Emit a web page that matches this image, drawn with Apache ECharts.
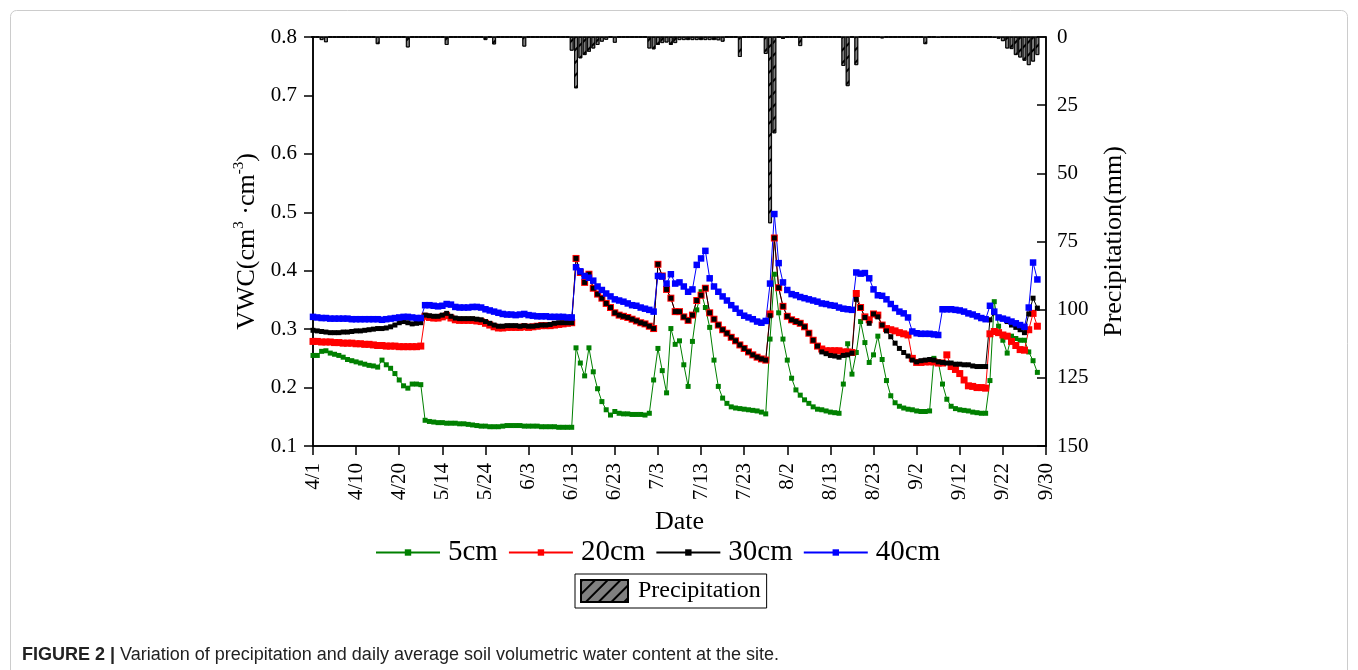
<!DOCTYPE html>
<html>
<head>
<meta charset="utf-8">
<script src="https://cdn.jsdelivr.net/npm/echarts@6/dist/echarts.min.js"></script>
<style>
html,body{margin:0;padding:0;background:#fff;}
#c{width:1358px;height:670px;}
</style>
</head>
<body>
<div id="c"></div>
<script>
// ---- data ----
const tickLabels = ['4/1','4/10','4/20','5/14','5/24','6/3','6/13','6/23','7/3','7/13','7/23','8/2','8/13','8/23','9/2','9/12','9/22','9/30'];
const slotCount = 171; // axis slots (ticks every 10 slots)

const vwc5 = [
  0.255,0.255,0.262,0.263,0.259,0.257,0.255,0.252,0.248,0.246,0.244,0.242,0.240,0.238,0.237,0.235,0.247,0.239,0.233,0.224,0.213,0.203,0.199,0.206,0.206,0.205,
  0.144,0.142,0.141,0.140,0.140,0.139,0.139,0.139,0.138,0.138,0.137,0.136,0.135,0.134,0.134,0.133,0.133,0.133,0.134,0.135,0.135,0.135,0.135,0.134,0.134,0.134,0.134,0.133,0.133,0.133,0.133,0.132,0.132,0.132,0.132,
  0.268,0.242,0.220,0.268,0.227,0.198,0.176,0.162,0.153,0.159,0.156,0.155,0.155,0.154,0.154,0.154,0.153,0.156,0.213,0.267,0.229,0.191,0.301,0.274,0.280,0.239,0.202,0.279,0.333,0.364,0.337,0.303,0.247,0.202,0.182,
  0.173,0.167,0.165,0.164,0.163,0.162,0.161,0.160,0.158,0.155,0.283,0.394,0.328,0.283,0.247,0.216,0.196,0.187,0.179,0.173,0.167,0.163,0.162,0.160,0.158,0.157,0.156,0.206,0.275,0.223,0.260,0.313,0.277,0.243,0.256,
  0.288,0.248,0.212,0.186,0.174,0.168,0.165,0.163,0.162,0.160,0.159,0.159,0.160,0.250,0.244,0.206,0.180,0.168,0.164,0.162,0.161,0.160,0.158,0.157,0.156,0.156,0.212,0.347,0.305,0.281,0.259,0.288,0.284,0.281,0.281,0.261,0.246,0.226
];
const vwc20 = [
  0.279,0.279,0.278,0.278,0.278,0.277,0.277,0.276,0.276,0.276,0.275,0.275,0.274,0.274,0.273,0.272,0.272,0.271,0.271,0.271,0.270,0.270,0.270,0.270,0.270,0.271,
  0.322,0.320,0.319,0.319,0.321,0.323,0.319,0.316,0.315,0.315,0.315,0.315,0.314,0.313,0.310,0.307,0.304,0.302,0.302,0.303,0.303,0.303,0.303,0.304,0.303,0.304,0.305,0.306,0.306,0.306,0.307,0.308,0.309,0.310,0.311,
  0.421,0.397,0.380,0.394,0.370,0.360,0.353,0.344,0.337,0.328,0.324,0.322,0.320,0.317,0.314,0.311,0.309,0.305,0.301,0.411,0.391,0.368,0.353,0.330,0.330,0.321,0.315,0.324,0.349,0.358,0.370,0.328,0.317,0.307,0.299,
  0.293,0.286,0.280,0.273,0.267,0.261,0.256,0.252,0.249,0.247,0.326,0.456,0.371,0.339,0.322,0.316,0.313,0.310,0.304,0.293,0.281,0.271,0.266,0.263,0.263,0.263,0.263,0.261,0.261,0.260,0.361,0.337,0.321,0.316,0.326,
  0.324,0.307,0.301,0.299,0.297,0.294,0.292,0.290,0.250,0.243,0.243,0.244,0.244,0.244,0.242,0.242,0.256,0.236,0.231,0.224,0.213,0.203,0.202,0.200,0.200,0.199,0.292,0.296,0.294,0.290,0.288,0.279,0.272,0.265,0.264,0.299,0.327,0.305
];
const vwc30 = [
  0.298,0.297,0.296,0.295,0.294,0.294,0.294,0.295,0.295,0.296,0.297,0.297,0.298,0.299,0.300,0.301,0.301,0.302,0.304,0.307,0.311,0.313,0.311,0.309,0.310,0.311,
  0.324,0.323,0.322,0.322,0.324,0.327,0.322,0.319,0.318,0.318,0.318,0.318,0.317,0.316,0.313,0.310,0.307,0.305,0.305,0.306,0.306,0.306,0.305,0.306,0.305,0.305,0.306,0.307,0.307,0.308,0.310,0.311,0.311,0.311,0.311,
  0.421,0.397,0.380,0.394,0.370,0.360,0.353,0.344,0.337,0.328,0.324,0.322,0.320,0.317,0.314,0.311,0.309,0.305,0.301,0.411,0.391,0.368,0.353,0.330,0.330,0.321,0.315,0.324,0.349,0.358,0.370,0.328,0.317,0.307,0.299,
  0.293,0.286,0.280,0.273,0.267,0.261,0.256,0.252,0.249,0.247,0.323,0.456,0.371,0.339,0.322,0.316,0.313,0.310,0.304,0.293,0.281,0.271,0.261,0.258,0.255,0.254,0.252,0.255,0.256,0.259,0.351,0.337,0.320,0.310,0.326,
  0.321,0.307,0.297,0.287,0.276,0.267,0.260,0.254,0.247,0.244,0.246,0.247,0.248,0.247,0.244,0.243,0.242,0.242,0.240,0.240,0.239,0.239,0.237,0.236,0.236,0.236,0.316,0.328,0.320,0.318,0.313,0.307,0.303,0.299,0.294,0.326,0.353,0.336
];
const vwc40 = [
  0.321,0.320,0.319,0.319,0.318,0.318,0.318,0.318,0.318,0.317,0.317,0.317,0.317,0.317,0.317,0.317,0.316,0.317,0.318,0.319,0.320,0.321,0.321,0.320,0.319,0.319,
  0.341,0.341,0.340,0.339,0.340,0.343,0.342,0.338,0.337,0.337,0.337,0.338,0.338,0.337,0.334,0.332,0.330,0.328,0.326,0.325,0.325,0.324,0.325,0.326,0.324,0.323,0.322,0.322,0.322,0.321,0.321,0.321,0.321,0.320,0.320,
  0.406,0.399,0.391,0.388,0.383,0.373,0.367,0.361,0.356,0.351,0.349,0.347,0.344,0.341,0.340,0.337,0.335,0.333,0.330,0.391,0.390,0.378,0.394,0.378,0.380,0.373,0.364,0.368,0.410,0.421,0.434,0.387,0.373,0.364,0.356,
  0.349,0.341,0.335,0.328,0.323,0.320,0.317,0.313,0.311,0.314,0.378,0.497,0.413,0.380,0.367,0.360,0.358,0.355,0.353,0.351,0.349,0.347,0.344,0.343,0.341,0.340,0.337,0.335,0.334,0.333,0.397,0.395,0.396,0.387,0.368,
  0.358,0.357,0.351,0.343,0.336,0.330,0.327,0.320,0.296,0.293,0.292,0.292,0.292,0.291,0.290,0.334,0.334,0.334,0.333,0.332,0.330,0.327,0.325,0.322,0.319,0.317,0.340,0.330,0.320,0.318,0.316,0.313,0.310,0.307,0.304,0.337,0.414,0.385
];
const precipitation = [
  0,0,1.1,1.9,0,0,0,0,0,0,
  0,0,0,0,0,2.6,0,0,0,0,
  0,0,3.8,0,0,0,0,0,0,0,
  0,2.9,0,0,0,0,0,0,0,0,
  1.1,0,2.7,0,0,0,0,0,0,3.5,
  0,0,0,0,0,0,0,0,0,0,
  5.0,18.8,7.8,6.6,5.4,4.2,2.9,1.7,1.0,0,
  2.1,0,0,0,0,0,0,0,4.2,4.5,
  2.9,2.2,2.0,2.9,2.2,1.1,1.1,1.1,1.1,1.1,
  1.1,1.1,1.1,1.1,1.2,1.7,0,0,0,7.3,
  0,0,0,0,0,6.2,68.3,35.3,0,0.7,
  0,0,0,3.3,0,0,0,0,0,0,
  0,0,0,10.6,18.0,0,10.3,0,0,0,
  0,0,0.5,0,0,0,0,0,0,0,
  0,0,2.6,0,0,0.3,0,0,0,0,
  0,0,0,0,0,0,0,0,0.3,0.6,
  1.5,4.2,4.4,6.6,7.5,8.7,10.3,9.0,6.6
];

// ---- chart ----
const categories = Array.from({length: slotCount}, (_, i) => String(i));
const serif = "'Liberation Serif','Times New Roman',serif";
const sans = "'Liberation Sans',Arial,sans-serif";

function lineSeries(name, data, color, size) {
  return {
    name, type: 'line', data, xAxisIndex: 0, yAxisIndex: 0,
    symbol: 'rect', symbolSize: size, showAllSymbol: true,
    itemStyle: {color: color},
    lineStyle: {color: color, width: 1},
    emphasis: {disabled: true},
    animation: false, z: 3
  };
}

const chart = echarts.init(document.getElementById('c'), null, {renderer: 'canvas'});
chart.setOption({
  backgroundColor: '#fff',
  animation: false,
  grid: {left: 313, top: 37, right: 312, bottom: 224, show: true, borderColor: '#000', borderWidth: 1.5, outerBoundsMode: 'none', containLabel: false},
  xAxis: {
    type: 'category', data: categories, boundaryGap: false,
    name: 'Date', nameLocation: 'middle', nameGap: 63,
    nameTextStyle: {fontFamily: serif, fontSize: 26, color: '#000'},
    axisLine: {onZero: false, lineStyle: {color: '#000', width: 1.5}},
    axisTick: {interval: 9, length: 9, lineStyle: {color: '#000', width: 1.5}},
    axisLabel: {interval: 9, rotate: 90, margin: 17, fontFamily: serif, fontSize: 21, color: '#000',
      formatter: (v, idx) => (idx % 10 === 0 ? tickLabels[idx / 10] : '')},
    splitLine: {show: false}
  },
  yAxis: [
    {
      type: 'value', min: 0.1, max: 0.8, interval: 0.1, position: 'left',
      name: '{a|VWC(cm}{s|3}{a| ·cm}{s|-3}{a|)}', nameLocation: 'middle', nameGap: 50, nameRotate: 90,
      nameTextStyle: {color: '#000', rich: {
        a: {fontFamily: serif, fontSize: 26, color: '#000', lineHeight: 30},
        s: {fontFamily: serif, fontSize: 15, color: '#000', verticalAlign: 'top', lineHeight: 30}
      }},
      axisLine: {show: true, onZero: false, lineStyle: {color: '#000', width: 1.5}},
      axisTick: {show: true, length: 9, lineStyle: {color: '#000', width: 1.5}},
      axisLabel: {margin: 16, fontFamily: serif, fontSize: 21, color: '#000', formatter: v => v.toFixed(1)},
      splitLine: {show: false}
    },
    {
      type: 'value', min: 0, max: 150, interval: 25, position: 'right', inverse: true,
      name: 'Precipitation(mm)', nameLocation: 'middle', nameGap: 55, nameRotate: 90,
      nameTextStyle: {fontFamily: serif, fontSize: 26, color: '#000'},
      axisLine: {show: true, onZero: false, lineStyle: {color: '#000', width: 1.5}},
      axisTick: {show: true, inside: true, length: 9, lineStyle: {color: '#000', width: 1.5}},
      axisLabel: {margin: 11, fontFamily: serif, fontSize: 21, color: '#000'},
      splitLine: {show: false}
    }
  ],
  legend: [
    {
      data: ['5cm', '20cm', '30cm', '40cm'], left: 375, top: 538, orient: 'horizontal', padding: 0,
      itemWidth: 64, itemHeight: 8, itemGap: 10, selectedMode: false,
      textStyle: {fontFamily: serif, fontSize: 29, color: '#000', padding: [0, 0, 0, 3]}
    },
    {
      data: ['Precipitation'], left: 575, top: 574, icon: 'rect',
      itemWidth: 47, itemHeight: 22, selectedMode: false,
      padding: [5, 6, 5, 5], borderColor: '#000', borderWidth: 1,
      textStyle: {fontFamily: serif, fontSize: 24, color: '#000', padding: [0, 0, 0, 5]}
    }
  ],
  series: [
    {
      name: 'Precipitation', type: 'bar', data: precipitation, xAxisIndex: 0, yAxisIndex: 1,
      barWidth: 3.8, z: 2, emphasis: {disabled: true},
      itemStyle: {
        color: '#808080', borderColor: '#000', borderWidth: 0.8,
        decal: {symbol: 'rect', symbolSize: 1, color: '#000', dashArrayX: [1, 0], dashArrayY: [1.2, 7], rotation: -Math.PI / 4}
      }
    },
    lineSeries('5cm', vwc5, '#008000', 5),
    lineSeries('20cm', vwc20, '#ff0000', 7),
    lineSeries('30cm', vwc30, '#000000', 5),
    lineSeries('40cm', vwc40, '#0000ff', 6.5)
  ],
  graphic: [
    {type: 'rect', silent: true, shape: {x: 10.5, y: 10.5, width: 1337, height: 720, r: 6},
     style: {fill: 'none', stroke: '#cccccc', lineWidth: 1}},
    {type: 'text', silent: true, left: 22, top: 646,
     style: {
       text: '{b|FIGURE 2 |} Variation of precipitation and daily average soil volumetric water content at the site.',
       fontFamily: sans, fontSize: 18, fill: '#222',
       rich: {b: {fontFamily: sans, fontSize: 18, fontWeight: 'bold', fill: '#222'}}
     }}
  ]
});
</script>
</body>
</html>
